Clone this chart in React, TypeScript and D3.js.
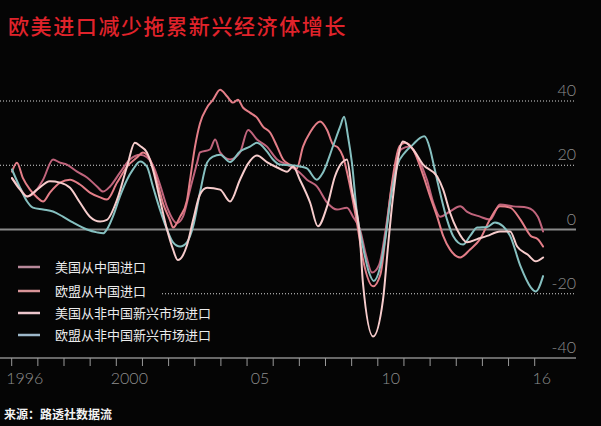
import React from "react";
import * as d3 from "d3";

const W = 601;
const H = 426;

const title = "欧美进口减少拖累新兴经济体增长";
const source = "来源：路透社数据流";
const seriesNames = ["美国从中国进口", "欧盟从中国进口", "美国从非中国新兴市场进口", "欧盟从非中国新兴市场进口"];
const yTicks = [40, 20, 0, -20, -40];
const xTickYears = d3.range(1996, 2017);
const xLabels = [
  { year: 1996, text: "1996" },
  { year: 2000, text: "2000" },
  { year: 2005, text: "05" },
  { year: 2010, text: "10" },
  { year: 2016, text: "16" },
];

// [decimal year, % change y/y]
const usChina: [number, number][] = [
  [1996.01, 16], [1996.3, 13], [1996.59, 10.3], [1996.81, 11], [1997.2, 15.5], [1997.58, 21.8],
  [1997.85, 20.8], [1998.11, 20.2], [1998.5, 18], [1998.88, 16.2], [1999.26, 13.4], [1999.49, 11.8],
  [1999.76, 13.4], [2000.14, 17.7], [2000.52, 21.8], [2000.91, 23.3], [2001.17, 22.5], [2001.4, 20],
  [2001.67, 14], [2001.94, 7], [2002.32, 2], [2002.55, 4], [2002.82, 12.4], [2003.09, 20.8],
  [2003.2, 24], [2003.58, 24.9], [2003.78, 28], [2003.97, 24], [2004.35, 21.8], [2004.73, 24],
  [2005.04, 31], [2005.38, 28], [2005.76, 25.8], [2006.15, 21.8], [2006.53, 20.2], [2007.02, 17.7],
  [2007.29, 15.5], [2007.67, 13.4], [2008.06, 8.4], [2008.44, 6.2], [2008.82, 6.8], [2009.05, 4],
  [2009.32, 0], [2009.55, -8], [2009.78, -13.4], [2010.05, -11], [2010.3, 0], [2010.55, 14],
  [2010.9, 25], [2011.23, 25.8], [2011.5, 22.7], [2011.88, 15.5], [2012.12, 8.4], [2012.38, 4],
  [2012.76, 5.6], [2013.15, 7.2], [2013.42, 5.5], [2013.91, 4], [2014.29, 3.1], [2014.67, 7.8],
  [2015.18, 7.2], [2015.73, 6.8], [2016.12, 4], [2016.32, -0.6],
];

const euChina: [number, number][] = [
  [1996.01, 18], [1996.2, 20.8], [1996.43, 16], [1996.7, 12.4], [1996.97, 10], [1997.2, 8.7],
  [1997.46, 11.5], [1997.85, 14.6], [1998.23, 15.5], [1998.61, 14], [1998.99, 11.5], [1999.38, 10],
  [1999.64, 9.3], [2000.03, 14.6], [2000.41, 19.6], [2000.79, 22.4], [2001.02, 24], [2001.29, 21.8],
  [2001.56, 15], [2001.79, 8], [2002.05, 3], [2002.17, 0.6], [2002.44, 4], [2002.7, 9],
  [2002.82, 15.5], [2003.01, 25.8], [2003.2, 33], [2003.47, 38], [2003.7, 40.4], [2003.97, 43.5],
  [2004.24, 41.4], [2004.46, 39.5], [2004.65, 40.4], [2004.85, 37.9], [2005.11, 36.4], [2005.38, 34.8],
  [2005.61, 32], [2005.88, 30.2], [2006.15, 25.8], [2006.38, 21.8], [2006.64, 20.2], [2006.9, 19],
  [2007.14, 25.8], [2007.41, 30.2], [2007.79, 33.6], [2008.06, 31], [2008.29, 26.4], [2008.48, 25.5],
  [2008.67, 22.7], [2008.94, 13.4], [2009.2, 2.2], [2009.45, -10], [2009.82, -17.7], [2010.1, -14],
  [2010.3, -2], [2010.5, 12], [2010.84, 26], [2011.04, 27], [2011.35, 24.9], [2011.73, 17],
  [2012.0, 10.3], [2012.27, 4], [2012.5, -2], [2012.76, -6.2], [2013.15, -8.7], [2013.53, -6.2],
  [2013.91, -3], [2014.29, 3.1], [2014.67, 7.2], [2015.06, 6.8], [2015.46, 3], [2015.85, -2],
  [2016.12, -3], [2016.32, -5.3],
];

const usEm: [number, number][] = [
  [1996.01, 16], [1996.32, 12.4], [1996.59, 10.3], [1996.97, 12.4], [1997.46, 15], [1997.85, 14.6],
  [1998.23, 13], [1998.61, 8.4], [1998.99, 4], [1999.38, 2.5], [1999.64, 3], [2000.03, 9.3],
  [2000.41, 19.6], [2000.71, 27], [2000.91, 26], [2001.17, 24], [2001.4, 18.7], [2001.67, 9.3],
  [2001.94, 0], [2002.17, -6.2], [2002.35, -9.5], [2002.55, -8], [2002.7, -5], [2002.94, 3],
  [2003.2, 10.9], [2003.47, 13], [2003.97, 12.4], [2004.35, 8.7], [2004.73, 15.5], [2005.04, 20.5],
  [2005.38, 23], [2005.76, 21], [2006.15, 19.3], [2006.53, 18], [2006.76, 19.6], [2007.02, 15.5],
  [2007.41, 8.4], [2007.71, 1], [2008.06, 7.2], [2008.36, 16.5], [2008.63, 20.8], [2008.82, 21.8],
  [2009.01, 12.4], [2009.32, -3], [2009.43, -16.5], [2009.82, -33.3], [2010.2, -21.8], [2010.38, -6.2],
  [2010.57, 9.3], [2010.96, 27.4], [2011.35, 24.9], [2011.73, 20.2], [2012.27, 16.5], [2012.5, 12.4],
  [2012.76, 5.3], [2013.03, 0], [2013.42, -4], [2013.8, -3], [2014.18, -2], [2014.67, -0.6],
  [2015.06, -0.6], [2015.33, -5.3], [2015.73, -7.8], [2016.04, -9.9], [2016.32, -8.7],
];

const euEm: [number, number][] = [
  [1996.01, 18.7], [1996.32, 13], [1996.59, 8.7], [1996.81, 6.8], [1997.2, 6.2], [1997.58, 5.6],
  [1997.96, 4], [1998.34, 2.2], [1998.88, 0], [1999.26, -0.9], [1999.5, -1.2], [1999.64, 0],
  [1999.87, 4], [2000.14, 10.3], [2000.41, 15.5], [2000.64, 18.7], [2000.91, 21.2], [2001.17, 19.6],
  [2001.4, 13.4], [2001.67, 6.2], [2001.94, 0], [2002.17, -4], [2002.44, -5.3], [2002.7, -4],
  [2002.94, 1], [2003.2, 11.5], [2003.47, 20.8], [2003.7, 22.7], [2003.97, 23.3], [2004.35, 21],
  [2004.73, 24.3], [2005.11, 25.8], [2005.38, 27], [2005.76, 24.3], [2005.99, 21.8], [2006.26, 20.2],
  [2006.64, 20], [2007.02, 19.6], [2007.29, 19], [2007.67, 15.5], [2007.9, 17.7], [2008.29, 26],
  [2008.56, 32], [2008.71, 35.1], [2008.86, 29], [2009.01, 20.8], [2009.2, 5.3], [2009.43, -5.3],
  [2009.65, -13], [2009.85, -16], [2010.08, -12], [2010.3, -2], [2010.5, 10], [2010.75, 20],
  [2011.04, 24], [2011.35, 26.5], [2011.62, 28.5], [2011.78, 29], [2012.0, 25], [2012.12, 20.8],
  [2012.38, 11.5], [2012.65, 3], [2012.88, -2], [2013.26, -4.7], [2013.53, -2], [2013.8, 0.6],
  [2014.18, 0.8], [2014.48, 2.2], [2014.79, 1], [2015.06, -2], [2015.46, -11.5], [2015.85, -18],
  [2016.04, -19.3], [2016.32, -14.5],
];

const lineColors = ["#c0647c", "#e47e88", "#f7cccc", "#86c0c0"];
const swatchColors = ["#b8899a", "#d89498", "#ecc6cc", "#9db8ca"];
const allSeries = [usChina, euChina, usEm, euEm];
const drawOrder = [0, 1, 3, 2];

export default function App() {
  const x = d3.scaleLinear().domain([1996, 2016]).range([11.7, 534.7]);
  const y = d3.scaleLinear().domain([-40, 40]).range([358, 101]);
  const line = d3
    .line<[number, number]>()
    .x((d) => x(d[0]))
    .y((d) => y(d[1]))
    .curve(d3.curveMonotoneX);

  const gridRight = 576;
  const legendRows = [267, 291, 313, 335];

  return (
    <svg
      width={W}
      height={H}
      style={{ position: "absolute", left: 0, top: 0, background: "#050505", display: "block" }}
    >
      <rect x={0} y={0} width={W} height={H} fill="#050505" />
      <text
        x={8}
        y={34}
        fill="#e0232b"
        fontSize={21}
        letterSpacing={1.6}
        fontFamily="'Noto Sans CJK SC', sans-serif"
        fontWeight={500}
      >
        {title}
      </text>

      {/* grid */}
      {yTicks.map((t) => {
        const yy = y(t);
        if (t === 0 || t === -40) {
          return (
            <line key={t} x1={0} x2={gridRight} y1={yy} y2={yy} stroke="#8a8a8a" strokeWidth={t === 0 ? 2 : 1.5} />
          );
        }
        return (
          <line
            key={t}
            x1={0}
            x2={gridRight}
            y1={yy}
            y2={yy}
            stroke="#d8d8d8"
            strokeWidth={1}
            strokeDasharray="1,2"
          />
        );
      })}
      {yTicks.map((t) => (
        <text
          key={"l" + t}
          x={gridRight}
          y={y(t) - 5}
          textAnchor="end"
          fill="#8e8e8e"
          fontSize={16}
          fontWeight={300}
          fontFamily="Lato, 'Open Sans', sans-serif"
        >
          {t}
        </text>
      ))}

      {/* x ticks */}
      {xTickYears.map((yr) => (
        <line key={yr} x1={x(yr)} x2={x(yr)} y1={358} y2={366} stroke="#9a9a9a" strokeWidth={1} />
      ))}
      {xLabels.map((l) => (
        <text
          key={l.text}
          x={l.year === 2016 ? x(l.year) + 7 : x(l.year + 0.5)}
          y={384}
          textAnchor="middle"
          fill="#8e8e8e"
          fontSize={16}
          fontWeight={300}
          fontFamily="Lato, 'Open Sans', sans-serif"
        >
          {l.text}
        </text>
      ))}

      {/* legend background */}
      <rect x={0} y={255} width={160} height={92} fill="#050505" />

      {/* lines */}
      {drawOrder.map((i) => (
        <path
          key={i}
          d={line(allSeries[i]) || ""}
          fill="none"
          stroke={lineColors[i]}
          strokeWidth={2}
          strokeLinejoin="round"
          strokeLinecap="round"
        />
      ))}

      {/* legend */}
      {seriesNames.map((name, i) => (
        <g key={name}>
          <line x1={18} x2={40} y1={legendRows[i]} y2={legendRows[i]} stroke={swatchColors[i]} strokeWidth={2.5} />
          <text
            x={55}
            y={legendRows[i] + 4.5}
            fill="#ececec"
            fontSize={13}
            fontFamily="'Noto Sans CJK SC', sans-serif"
          >
            {name}
          </text>
        </g>
      ))}

      <text
        x={4}
        y={419}
        fill="#f2f2f2"
        fontSize={12}
        fontWeight={700}
        fontFamily="'Noto Sans CJK SC', sans-serif"
      >
        {source}
      </text>
    </svg>
  );
}
